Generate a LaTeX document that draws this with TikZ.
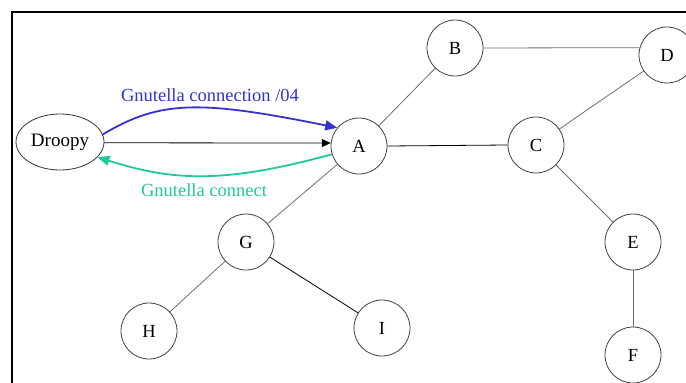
\documentclass[tikz,border=0pt]{standalone}
\usepackage{fontspec}
\setmainfont{Liberation Serif}
\usetikzlibrary{arrows.meta,shapes.geometric}
\definecolor{gblue}{RGB}{51,51,204}
\definecolor{gteal}{RGB}{31,201,154}
\definecolor{edgegray}{RGB}{110,110,110}
\begin{document}
\begin{tikzpicture}[x=1pt,y=-1pt,
  peer/.style={circle,draw=black!75,line width=0.8pt,minimum size=56pt,inner sep=0pt,font=\fontsize{18.5}{20}\selectfont},
  host/.style={ellipse,draw=black!80,line width=0.8pt,minimum width=88pt,minimum height=56pt,inner sep=0pt,font=\fontsize{19}{20}\selectfont},
  link/.style={draw=edgegray,line width=0.8pt},
  blink/.style={draw=black,line width=0.8pt},
  lbl/.style={font=\fontsize{18.5}{20}\selectfont}]
\useasboundingbox (0,0) rectangle (686,383);
\draw[line width=2.2pt] (12,390) -- (12,12) -- (700,12);
\node[host] (droopy) at (60,142) {Droopy};
\node[peer] (A) at (359,146) {A};
\node[peer] (B) at (455,48) {B};
\node[peer] (D) at (667,55) {D};
\node[peer] (C) at (536,145) {C};
\node[peer] (E) at (633,242) {E};
\node[peer] (F) at (633,355) {F};
\node[peer] (G) at (246,242) {G};
\node[peer] (H) at (149,331) {H};
\node[peer] (I) at (382,328) {I};
\draw[link] (A) -- (B);
\draw[link] (B.east) -- (D.165);
\draw[link] (D) -- (C);
\draw[blink] (A.east) -- (C.west);
\draw[link] (C) -- (E);
\draw[link] (E) -- (F);
\draw[link] (A) -- (G);
\draw[link] (G) -- (H);
\draw[blink] (G) -- (I);
\draw[blink,-{Triangle[length=9pt,width=8pt]}] (droopy.-1) -- (A.174);
\draw[gblue,line width=1.8pt,-{Triangle[length=12pt,width=10pt]}] (droopy.10) .. controls (160,100) and (200,100) .. (A.140);
\draw[gteal,line width=1.8pt,-{Triangle[length=12pt,width=10pt]}] (A.-163) .. controls (220,185) and (170,180) .. (droopy.-22);
\node[lbl,text=gblue] (l1) at (210,95) {Gnutella connection /04};
\node[lbl,text=gteal] (l2) at (204,190) {Gnutella connect};
\end{tikzpicture}
\end{document}
